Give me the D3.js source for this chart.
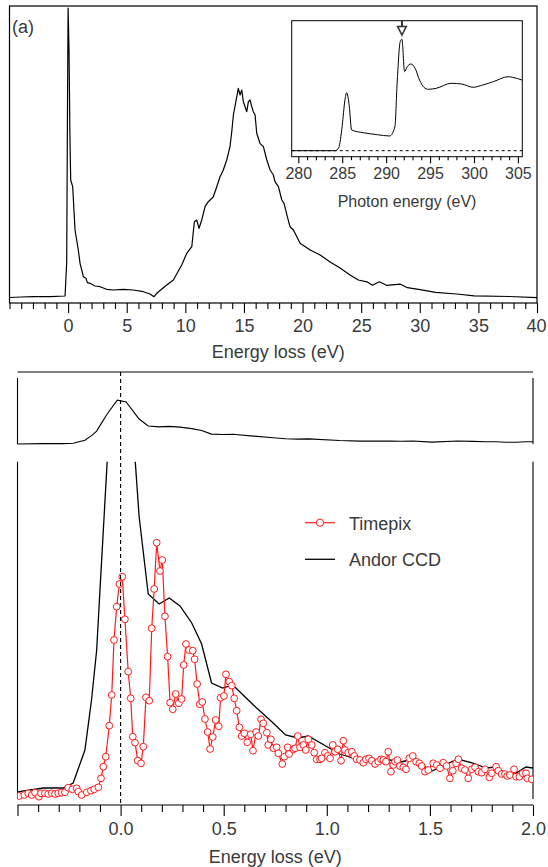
<!DOCTYPE html>
<html><head><meta charset="utf-8">
<script src="https://cdn.jsdelivr.net/npm/d3@7"></script>
<style>
body{margin:0;background:#fff;}
svg{display:block;font-family:"Liberation Sans",Arial,sans-serif;}
</style></head><body>
<svg id="chart" width="548" height="867"></svg>
<script>
// ---------- Panel (a): low-loss EELS spectrum ----------
const lossEnergy = [-5,-4,-2.97,-1.54,-0.26,-0.12,-0.05,0,0.08,0.15,0.22,0.39,0.59,0.87,1.02,1.30,1.53,1.64,1.87,2.30,2.72,3.29,3.86,4.71,5.56,6.42,6.99,7.33,7.56,8.41,8.98,9.69,10.12,10.55,10.77,10.97,11.17,11.40,11.68,11.96,12.39,12.68,12.96,13.24,13.53,13.81,13.96,14.10,14.39,14.52,14.67,14.81,14.95,15.24,15.38,15.52,15.67,15.80,15.95,16.09,16.37,16.66,16.95,17.23,17.51,17.65,17.94,18.23,18.42,18.70,18.93,19.22,19.51,19.79,20.65,21.5,22.35,23.2,24.05,24.76,25.5,25.96,26.55,27.16,28.35,28.95,30.15,31.35,33.15,34.65,37.65,40];
const lossIntensity = [4.5,5,5.3,5.3,6,40,200,294,250,170,122,115.3,72,52,38.7,25.3,23.7,19.3,18.7,16,15.3,12.7,12,12.7,12,10.3,8,5.3,8.7,17,22,37,48.7,55.3,80.3,82,73.7,82,95.3,100.3,105.3,115.3,125.3,132,142,155.3,170.3,187,205.3,213.7,207,212,200.3,190.3,200.3,202,195.3,190.3,187,168.7,158.7,155.3,142,132,127,120.3,115.3,102,98.7,85.3,75.3,72,65.3,58.7,52,47,40,34,27,22,20.2,16.7,20.2,16.7,17.8,14.3,12.2,9.7,8,6.2,5.5,4.4];
const lossTicks = [0,5,10,15,20,25,30,35,40];

// ---------- Inset: C K-edge ----------
const photonEnergy = [279.25,284.2,284.6,285.0,285.3,285.5,285.8,286.07,287.4,289,290.4,291.0,291.25,291.6,291.8,292.1,292.4,292.8,293.3,293.8,294.3,294.8,295.7,297.4,298.6,299.9,301.0,302.2,303.9,304.4,305.45];
const xasIntensity = [0,0,3,25,50,58,45,20.7,18,16,14.7,24,67.4,109,111.4,79,84,86.7,82.4,70.7,63.4,61.4,62.4,67.4,66.7,63.4,65.7,69,74,73.4,70.7];
const photonTicks = [280,285,290,295,300,305];
const arrowEnergy = 291.8;

// ---------- Panel (b): zero-loss peak, Andor CCD ----------
const ccdEnergy = [-0.5,-0.374,-0.278,-0.23,-0.173,-0.141,-0.116,-0.1,-0.066,-0.016,0.027,0.079,0.09,0.134,0.187,0.236,0.288,0.345,0.393,0.441,0.495,0.544,0.644,0.74,0.8,0.86,0.91,1.063,1.16,1.305,1.36,1.418,1.51,1.635,1.708,1.773,1.82,1.87,1.918,1.966,2.0];
const ccdCounts = [13,17,17,22,55,105,155,215,340,495,475,320,288,211,201,207,199,182,161,122,117,120,100,82,70,67,69,51,45,45,43,46,34,46,42,37,38,32,32,38,37];

// ---------- Panel (b): Timepix ----------
const tpxEnergy = [-0.493,-0.467,-0.448,-0.431,-0.415,-0.396,-0.386,-0.367,-0.351,-0.334,-0.318,-0.302,-0.286,-0.27,-0.254,-0.234,-0.213,-0.205,-0.189,-0.164,-0.144,-0.128,-0.108,-0.095,-0.084,-0.072,-0.055,-0.043,-0.032,-0.019,-0.006,0.008,0.021,0.037,0.049,0.059,0.07,0.083,0.099,0.11,0.123,0.139,0.151,0.163,0.175,0.191,0.202,0.215,0.228,0.24,0.253,0.267,0.282,0.296,0.306,0.317,0.332,0.35,0.359,0.371,0.384,0.396,0.409,0.422,0.434,0.447,0.461,0.476,0.485,0.501,0.511,0.527,0.539,0.551,0.563,0.576,0.587,0.6,0.614,0.631,0.642,0.657,0.668,0.681,0.692,0.709,0.716,0.729,0.741,0.757,0.765,0.784,0.794,0.81,0.817,0.838,0.846,0.859,0.87,0.886,0.898,0.91,0.927,0.939,0.951,0.967,0.975,0.991,1.004,1.016,1.029,1.04,1.053,1.069,1.08,1.088,1.104,1.121,1.133,1.145,1.161,1.177,1.19,1.205,1.218,1.234,1.25,1.263,1.274,1.287,1.298,1.311,1.322,1.331,1.342,1.355,1.371,1.384,1.4,1.417,1.433,1.449,1.46,1.476,1.492,1.516,1.533,1.549,1.565,1.581,1.597,1.611,1.627,1.638,1.654,1.67,1.686,1.703,1.719,1.735,1.751,1.767,1.788,1.8,1.821,1.832,1.848,1.864,1.875,1.888,1.908,1.918,1.934,1.95,1.966,1.972,1.994];
const tpxCounts = [9,10,11.7,10,12.3,8.3,11.7,11.7,11,11.7,11,11.7,12.3,12.7,17.3,15.7,16.7,13.3,10,12.7,14.3,15.7,17.7,26.7,38.3,48.3,79.3,110,165,198.3,221,228.3,185.7,133.3,106.7,68.3,62.3,44.3,41.7,58.3,107.7,104.3,176.7,216,262.3,234,245,188.7,148.3,102.3,95.7,111,101.7,106,140,161,155,154.3,145.7,121,100.7,103,86,73,56,68,85,78.7,107.3,109,130.7,123.3,119.3,106.7,94.3,77.7,69,71.7,62.7,70.7,54.3,73,69,85.7,81.7,72.3,60,65.7,56.7,57.7,51.7,41,48.3,57.7,51,55.7,56.7,69,57.7,60,55,65.7,60,52.3,45.7,45.7,46.7,52.3,49,46.7,60,53.3,55.7,44.3,64.3,55,52.3,53.3,49,45.7,45,42.3,45.7,46.7,44.3,41,43.3,45.7,45,43.3,53.3,33.3,40,43.3,45,39,37.7,35.7,46.7,49,43.3,41.7,39,33.3,35,41.7,40,36.7,42.3,39,26.7,34.3,41.7,45.7,36.7,35,26.7,35.7,37.7,33.3,32.3,35.7,27.7,31.7,38.3,34.3,31,31,29,30,35.7,28.3,28.3,31.7,31.7,26.7,25.7];
const bTicks = [0.0,0.5,1.0,1.5,2.0];
const legendLabels = ["Timepix","Andor CCD"];

// ================= drawing =================
const svg = d3.select('#chart');
const TXT = '#3a3a3a', RED = '#ff1a1a';
const FONT = 18;

function axis(g, scale, minorVals, majorVals, minorLen, majorLen, fmt, fs, labelDy){
  const gm = g.append('g').call(d3.axisBottom(scale).tickValues(minorVals).tickSize(minorLen).tickFormat(''));
  gm.select('.domain').remove();
  const gM = g.append('g').call(d3.axisBottom(scale).tickValues(majorVals).tickSize(majorLen).tickPadding(labelDy).tickFormat(fmt));
  gM.select('.domain').remove();
  g.selectAll('line').attr('stroke','#000').attr('stroke-width',1.1);
  g.selectAll('text').attr('fill',TXT).attr('font-size',fs).attr('font-family','"Liberation Sans",Arial,sans-serif');
}

// ----- panel (a)
const A = {l:9.5, r:537, t:6, b:303};
const xA = d3.scaleLinear().domain([-5,40]).range([A.l, A.r]);
const yA = d3.scaleLinear().domain([-1,296]).range([A.b, A.t]);
svg.append('rect').attr('x',A.l).attr('y',A.t).attr('width',A.r-A.l).attr('height',A.b-A.t)
  .attr('fill','none').attr('stroke','#000').attr('stroke-width',1.2);
const lossData = lossEnergy.map((e,i)=>[e,lossIntensity[i]]);
svg.append('path').datum(lossData).attr('fill','none').attr('stroke','#000').attr('stroke-width',1.2)
  .attr('stroke-linejoin','round')
  .attr('d', d3.line().x(d=>xA(d[0])).y(d=>yA(d[1])));
const gA = svg.append('g').attr('transform',`translate(0,${A.b})`);
axis(gA, xA, d3.range(-5,41,1).filter(v=>v%5!==0 || v===-5), lossTicks, 6, 10, d3.format('d'), FONT, 6);
gA.selectAll('text').filter(d=>d===40).attr('dx',-1);
svg.append('text').attr('x',(A.l+A.r)/2+5).attr('y',358).attr('text-anchor','middle')
  .attr('fill',TXT).attr('font-size',FONT).text('Energy loss (eV)');
svg.append('text').attr('x',12).attr('y',33).attr('fill',TXT).attr('font-size',FONT).text('(a)');

// ----- inset
const I = {l:291.7, r:522.3, t:20.7, b:156.7};
const xI = d3.scaleLinear().domain([279.25,305.5]).range([I.l, I.r]);
const yI = d3.scaleLinear().domain([-6,130]).range([I.b, I.t]);
svg.append('rect').attr('x',I.l).attr('y',I.t).attr('width',I.r-I.l).attr('height',I.b-I.t)
  .attr('fill','#fff').attr('stroke','#000').attr('stroke-width',1);
svg.append('line').attr('x1',I.l).attr('x2',I.r).attr('y1',yI(0)).attr('y2',yI(0))
  .attr('stroke','#000').attr('stroke-width',1).attr('stroke-dasharray','3,3');
const xasData = photonEnergy.map((e,i)=>[e,xasIntensity[i]]);
svg.append('path').datum(xasData).attr('fill','none').attr('stroke','#000').attr('stroke-width',1)
  .attr('d', d3.line().curve(d3.curveMonotoneX).x(d=>xI(d[0])).y(d=>yI(d[1])));
const gI = svg.append('g').attr('transform',`translate(0,${I.b})`);
axis(gI, xI, d3.range(280,306,1).filter(v=>v%5!==0), photonTicks, 3.5, 6.5, d3.format('d'), 16, 4);
svg.append('text').attr('x',(I.l+I.r)/2).attr('y',207).attr('text-anchor','middle')
  .attr('fill',TXT).attr('font-size',16).text('Photon energy (eV)');
const ax = xI(arrowEnergy);
svg.append('line').attr('x1',ax).attr('x2',ax).attr('y1',I.t).attr('y2',27).attr('stroke','#333').attr('stroke-width',2);
svg.append('path').attr('d',`M${ax-4.3},26.5L${ax+4.3},26.5L${ax},35Z`).attr('fill','#fff').attr('stroke','#333').attr('stroke-width',1.6);

// ----- panel (b)
const xB = d3.scaleLinear().domain([-0.5,2.0]).range([17.5,533]);
// top small panel
svg.append('line').attr('x1',17.5).attr('x2',533).attr('y1',372).attr('y2',372).attr('stroke','#000').attr('stroke-width',1.1);
[17.5,533].forEach(x=>svg.append('line').attr('x1',x).attr('x2',x).attr('y1',378).attr('y2',444).attr('stroke','#000').attr('stroke-width',1.1));
const ySmall = d3.scaleLinear().domain([13,739]).range([444,378]);
const ccdData = ccdEnergy.map((e,i)=>[e,ccdCounts[i]]);
svg.append('path').datum(ccdData).attr('fill','none').attr('stroke','#000').attr('stroke-width',1.1)
  .attr('d', d3.line().x(d=>xB(d[0])).y(d=>ySmall(d[1])));

// main panel
const M = {t:461.7, b:805};
const yB = d3.scaleLinear().domain([0,343.3]).range([M.b, M.t]);
[17.5,533].forEach(x=>svg.append('line').attr('x1',x).attr('x2',x).attr('y1',M.t).attr('y2',799).attr('stroke','#000').attr('stroke-width',1.1));
svg.append('clipPath').attr('id','clipB').append('rect').attr('x',17.5).attr('y',M.t).attr('width',515.5).attr('height',M.b-M.t);
const gB = svg.append('g').attr('clip-path','url(#clipB)');
gB.append('path').datum(ccdData).attr('fill','none').attr('stroke','#000').attr('stroke-width',1.3)
  .attr('d', d3.line().x(d=>xB(d[0])).y(d=>yB(d[1])));
const tpxData = tpxEnergy.map((e,i)=>[e,tpxCounts[i]]);
gB.append('path').datum(tpxData).attr('fill','none').attr('stroke',RED).attr('stroke-width',1.2)
  .attr('d', d3.line().x(d=>xB(d[0])).y(d=>yB(d[1])));
gB.selectAll('circle.tp').data(tpxData).enter().append('circle').attr('class','tp')
  .attr('cx',d=>xB(d[0])).attr('cy',d=>yB(d[1])).attr('r',3.4)
  .attr('fill','#fff').attr('stroke',RED).attr('stroke-width',1);
// dashed zero line
svg.append('line').attr('x1',xB(0)).attr('x2',xB(0)).attr('y1',372).attr('y2',M.b)
  .attr('stroke','#000').attr('stroke-width',1.1).attr('stroke-dasharray','4,3');
// axis
svg.append('line').attr('x1',17.5).attr('x2',533).attr('y1',M.b).attr('y2',M.b).attr('stroke','#000').attr('stroke-width',1.2);
const gBx = svg.append('g').attr('transform',`translate(0,${M.b})`);
const minorB = d3.range(-5,21,1).map(v=>v/10).filter(v=>Math.abs(v*2-Math.round(v*2))>1e-6);
axis(gBx, xB, minorB, [-0.5].concat(bTicks), 7, 11, d=> d<0 ? '' : d3.format('.1f')(d), FONT, 6);
svg.append('text').attr('x',(17.5+533)/2).attr('y',863).attr('text-anchor','middle')
  .attr('fill',TXT).attr('font-size',FONT).text('Energy loss (eV)');

// legend
const leg = svg.append('g');
leg.append('line').attr('x1',305).attr('x2',335).attr('y1',522.7).attr('y2',522.7).attr('stroke',RED).attr('stroke-width',1.2);
leg.append('circle').attr('cx',320).attr('cy',522.7).attr('r',3.6).attr('fill','#fff').attr('stroke',RED).attr('stroke-width',1);
leg.append('text').attr('x',349).attr('y',529.5).attr('fill',TXT).attr('font-size',FONT).text(legendLabels[0]);
leg.append('line').attr('x1',305).attr('x2',335).attr('y1',559.3).attr('y2',559.3).attr('stroke','#000').attr('stroke-width',1.3);
leg.append('text').attr('x',349).attr('y',566).attr('fill',TXT).attr('font-size',FONT).text(legendLabels[1]);
</script>
</body></html>
